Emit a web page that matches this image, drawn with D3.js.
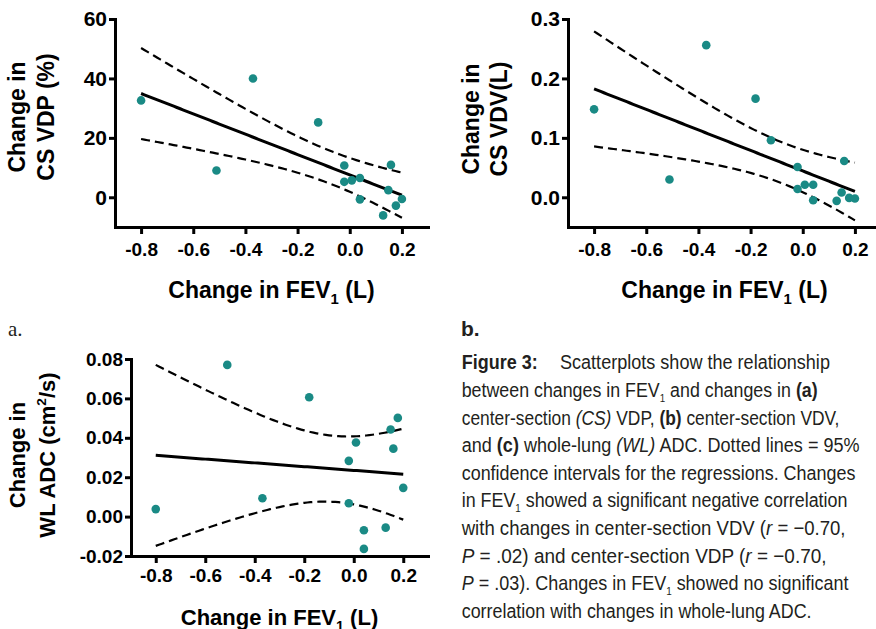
<!DOCTYPE html>
<html><head><meta charset="utf-8">
<script src="https://cdn.jsdelivr.net/npm/d3@7"></script>
<style>body{margin:0;background:#fff}</style>
</head><body>
<svg id="c" width="876" height="629" xmlns="http://www.w3.org/2000/svg"></svg>
<script>
// ---------- data ----------
const xTickValues = [-0.8, -0.6, -0.4, -0.2, 0.0, 0.2];
const xTickLabels = ["-0.8", "-0.6", "-0.4", "-0.2", "0.0", "0.2"];

const fevA = [-0.800, -0.511, -0.371, -0.121, -0.021, -0.021, 0.008, 0.039, 0.039, 0.128, 0.148, 0.158, 0.177, 0.200];
const vdpA = [32.6, 9.0, 40.0, 25.2, 10.7, 5.2, 5.7, 6.5, -0.7, -6.1, 2.4, 10.9, -2.8, -0.6];
const yTicksA = [0, 20, 40, 60];
const yTickLabelsA = ["0", "20", "40", "60"];

const fevB = [-0.800, -0.511, -0.370, -0.181, -0.122, -0.020, -0.020, 0.008, 0.040, 0.040, 0.130, 0.149, 0.159, 0.178, 0.200];
const vdvB = [0.148, 0.030, 0.256, 0.166, 0.096, 0.051, 0.014, 0.021, 0.021, -0.005, -0.006, 0.008, 0.061, -0.001, -0.002];
const yTicksB = [0.0, 0.1, 0.2, 0.3];
const yTickLabelsB = ["0.0", "0.1", "0.2", "0.3"];

const fevC = [-0.800, -0.511, -0.369, -0.180, -0.020, -0.020, 0.009, 0.041, 0.041, 0.129, 0.149, 0.160, 0.178, 0.200];
const adcC = [0.0038, 0.0770, 0.0093, 0.0606, 0.0283, 0.0068, 0.0376, -0.0069, -0.0164, -0.0056, 0.0442, 0.0345, 0.0501, 0.0146];
const yTicksC = [-0.02, 0.00, 0.02, 0.04, 0.06, 0.08];
const yTickLabelsC = ["-0.02", "0.00", "0.02", "0.04", "0.06", "0.08"];

// two-sided 95% t critical values by degrees of freedom
const T_CRIT = {11: 2.201, 12: 2.179, 13: 2.160, 14: 2.145};

// ---------- drawing ----------
const svg = d3.select("#c");
const TEAL = "#1a8a85";
const FONT = "'Liberation Sans', Arial, Helvetica, sans-serif";

function fitLine(xs, ys) {
  const n = xs.length, mx = d3.mean(xs), my = d3.mean(ys);
  let sxx = 0, sxy = 0;
  xs.forEach((x, i) => { sxx += (x - mx) ** 2; sxy += (x - mx) * (ys[i] - my); });
  const b = sxy / sxx, a = my - b * mx;
  let sse = 0;
  xs.forEach((x, i) => { sse += (ys[i] - a - b * x) ** 2; });
  const s = Math.sqrt(sse / (n - 2));
  const t = T_CRIT[n - 2];
  const [x0, x1] = d3.extent(xs);
  return d3.range(0, 81).map(k => {
    const x = x0 + (x1 - x0) * k / 80;
    const yh = a + b * x;
    const h = t * s * Math.sqrt(1 / n + (x - mx) ** 2 / sxx);
    return {x, y: yh, lo: yh - h, hi: yh + h};
  });
}

function panel(cfg) {
  const g = svg.append("g");
  const x = d3.scaleLinear().domain([-0.9, 0.3]).range(cfg.xRange);
  const y = d3.scaleLinear().domain(cfg.yDomain).range(cfg.yRange);

  const xAxis = d3.axisBottom(x).tickValues(xTickValues)
    .tickFormat((d, i) => xTickLabels[i]).tickSize(7).tickSizeOuter(0).tickPadding(cfg.xPad);
  const yAxis = d3.axisLeft(y).tickValues(cfg.yTicks)
    .tickFormat((d, i) => cfg.yLabels[i]).tickSize(6).tickSizeOuter(0).tickPadding(2);

  const gx = g.append("g").attr("transform", `translate(0,${cfg.yRange[0]})`).call(xAxis);
  const gy = g.append("g").attr("transform", `translate(${cfg.xRange[0]},0)`).call(yAxis);
  [gx, gy].forEach(a => {
    a.select(".domain").attr("stroke", "#000").attr("stroke-width", 3).attr("stroke-linecap", "square");
    a.selectAll(".tick line").attr("stroke", "#000").attr("stroke-width", 3);
    a.selectAll(".tick text").attr("fill", "#000").attr("font-family", FONT).attr("font-weight", "bold");
  });
  gx.selectAll(".tick text").attr("font-size", cfg.xTickFont);
  gy.selectAll(".tick text").attr("font-size", cfg.yTickFont);

  // regression & CI
  const f = fitLine(cfg.xs, cfg.ys);
  const line = key => d3.line().x(d => x(d.x)).y(d => y(d[key]));
  ["hi", "lo"].forEach(k => {
    g.append("path").attr("d", line(k)(f)).attr("fill", "none").attr("stroke", "#000")
      .attr("stroke-width", 2.2).attr("stroke-dasharray", "9,5");
  });
  g.append("path").attr("d", line("y")(f)).attr("fill", "none").attr("stroke", "#000")
    .attr("stroke-width", 3);

  // points
  g.selectAll("circle.pt").data(cfg.xs).join("circle").attr("class", "pt")
    .attr("cx", d => x(d)).attr("cy", (d, i) => y(cfg.ys[i])).attr("r", 4.3).attr("fill", TEAL);

  // y title (rotated, two lines)
  cfg.yTitle.forEach((ln, i) => {
    const t = g.append("text")
      .attr("transform", `translate(${cfg.yTitleX[i]},${cfg.yTitleY}) rotate(-90)`)
      .attr("text-anchor", "middle").attr("font-family", FONT).attr("font-weight", "bold")
      .attr("font-size", cfg.titleFont).attr("fill", "#000");
    ln.forEach(seg => {
      const ts = t.append("tspan").text(seg.t);
      if (seg.sup) ts.attr("font-size", cfg.titleFont * 0.62).attr("dy", -cfg.titleFont * 0.4);
      if (seg.back) ts.attr("dy", cfg.titleFont * 0.4);
    });
  });

  // x title
  const xt = g.append("text").attr("x", (cfg.xRange[0] + cfg.xRange[1]) / 2).attr("y", cfg.xTitleY)
    .attr("text-anchor", "middle").attr("font-family", FONT).attr("font-weight", "bold")
    .attr("font-size", cfg.titleFont).attr("fill", "#000");
  xt.append("tspan").text("Change in FEV");
  xt.append("tspan").text("1").attr("font-size", cfg.titleFont * 0.65).attr("dy", cfg.titleFont * 0.25);
  xt.append("tspan").text(" (L)").attr("dy", -cfg.titleFont * 0.25);
}

panel({
  xs: fevA, ys: vdpA, xRange: [115, 428], yDomain: [-10, 60], yRange: [227, 19],
  yTicks: yTicksA, yLabels: yTickLabelsA, xTickFont: 19, yTickFont: 21, xPad: 9, titleFont: 23,
  yTitle: [[{t: "Change in"}], [{t: "CS VDP (%)"}]], yTitleX: [24.5, 53.5], yTitleY: 117, xTitleY: 298
});
panel({
  xs: fevB, ys: vdvB, xRange: [568, 881], yDomain: [-0.05, 0.3], yRange: [227, 19],
  yTicks: yTicksB, yLabels: yTickLabelsB, xTickFont: 19, yTickFont: 21, xPad: 9, titleFont: 23,
  yTitle: [[{t: "Change in"}], [{t: "CS VDV(L)"}]], yTitleX: [478.5, 507], yTitleY: 119, xTitleY: 298
});
panel({
  xs: fevC, ys: adcC, xRange: [131, 428], yDomain: [-0.02, 0.08], yRange: [556, 359],
  yTicks: yTicksC, yLabels: yTickLabelsC, xTickFont: 19, yTickFont: 19, xPad: 6, titleFont: 22,
  yTitle: [[{t: "Change in"}], [{t: "WL ADC (cm"}, {t: "2", sup: true}, {t: "/s)", back: true}]],
  yTitleX: [25, 55], yTitleY: 455, xTitleY: 625
});

// panel letters
svg.append("text").attr("x", 8).attr("y", 336).text("a.")
  .attr("font-family", "'Liberation Serif', 'DejaVu Serif', serif").attr("font-size", 21).attr("fill", "#231f20");
svg.append("text").attr("x", 461).attr("y", 336).text("b.")
  .attr("font-family", "'Liberation Sans Narrow', 'Liberation Sans', sans-serif").attr("font-weight", "bold")
  .attr("font-size", 21).attr("fill", "#231f20");

// caption
const CAP_FONT = "'Liberation Sans Narrow', 'Arial Narrow', 'Liberation Sans', sans-serif";
const capX = 461.7, capY0 = 369.3, capDY = 27.6, capSize = 21;
const captionLines = [
  {x: capX, row: 0, len: 76, segs: [{t: "Figure 3:", b: 1}]},
  {x: 560, row: 0, len: 270, segs: [{t: "Scatterplots show the relationship"}]},
  {row: 1, len: 356, segs: [{t: "between changes in FEV"}, {t: "1", sub: true}, {t: " and changes in ", back: true}, {t: "(a)", b: 1}]},
  {row: 2, len: 378, segs: [{t: "center-section "}, {t: "(CS)", i: 1}, {t: " VDP, "}, {t: "(b)", b: 1}, {t: " center-section VDV,"}]},
  {row: 3, len: 398, segs: [{t: "and "}, {t: "(c)", b: 1}, {t: " whole-lung "}, {t: "(WL)", i: 1}, {t: " ADC. Dotted lines = 95%"}]},
  {row: 4, len: 394, segs: [{t: "confidence intervals for the regressions. Changes"}]},
  {row: 5, len: 386, segs: [{t: "in FEV"}, {t: "1", sub: true}, {t: " showed a significant negative correlation", back: true}]},
  {row: 6, len: 384, segs: [{t: "with changes in center-section VDV ("}, {t: "r", i: 1}, {t: " = \u22120.70,"}]},
  {row: 7, len: 365, segs: [{t: "P", i: 1}, {t: " = .02) and center-section VDP ("}, {t: "r", i: 1}, {t: " = \u22120.70,"}]},
  {row: 8, len: 387, segs: [{t: "P", i: 1}, {t: " = .03). Changes in FEV"}, {t: "1", sub: true}, {t: " showed no significant", back: true}]},
  {row: 9, len: 350, segs: [{t: "correlation with changes in whole-lung ADC."}]}
];

captionLines.forEach(ln => {
  const gx = ln.x || capX, gy = capY0 + capDY * ln.row;
  const t = svg.append("text").attr("x", 0).attr("y", 0)
    .attr("font-family", CAP_FONT).attr("font-size", capSize).attr("fill", "#231f20");
  ln.segs.forEach(s => {
    const ts = t.append("tspan").text(s.t);
    if (s.b) ts.attr("font-weight", "bold");
    if (s.i) ts.attr("font-style", "italic");
    if (s.sub) ts.attr("font-size", capSize * 0.55).attr("dy", 5);
    if (s.back) ts.attr("dy", -5);
  });
  const w = t.node().getComputedTextLength();
  t.attr("transform", `translate(${gx},${gy}) scale(${ln.len / w},1)`);
});
</script>
</body></html>
